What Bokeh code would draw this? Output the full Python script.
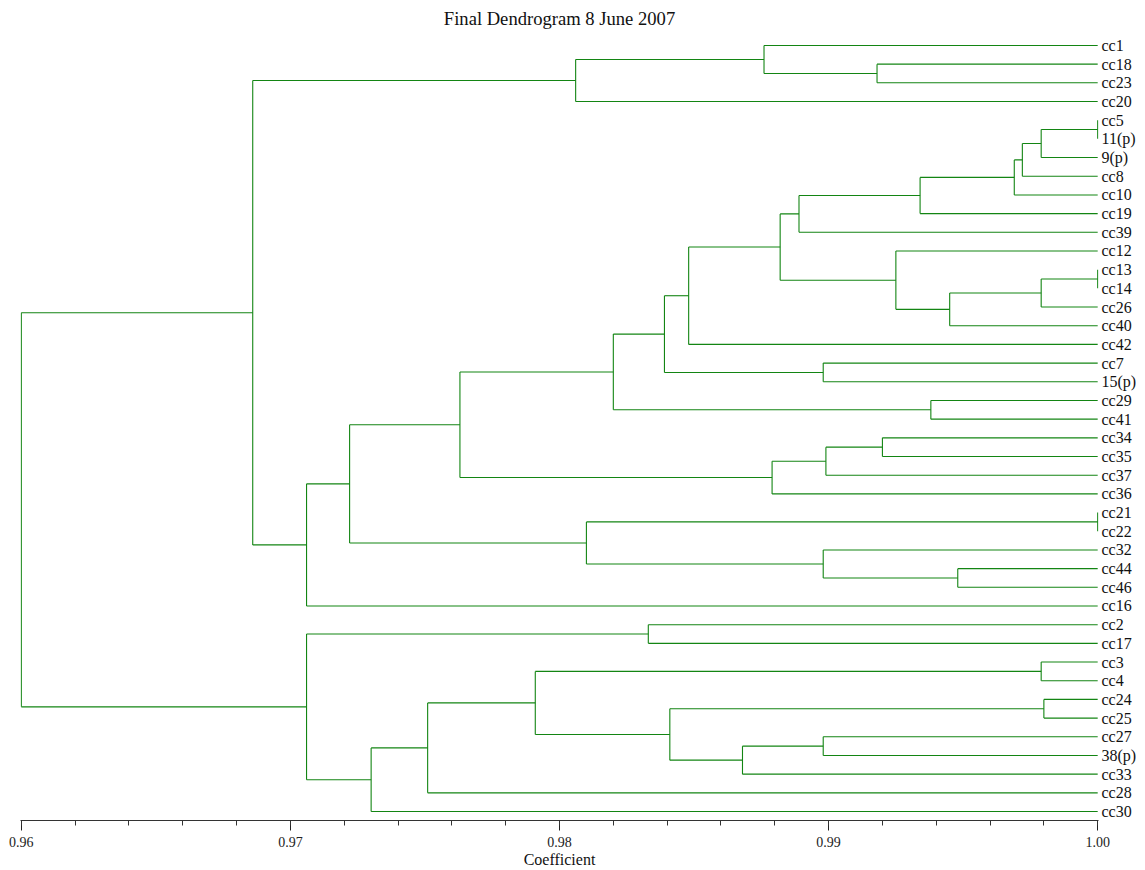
from bokeh.plotting import figure
from bokeh.models import Range1d, LinearAxis, FixedTicker, ColumnDataSource, PrintfTickFormatter
from bokeh.embed import file_html
from bokeh.resources import INLINE

# ---------------- data ----------------
leaves = ["cc1", "cc18", "cc23", "cc20", "cc5", "11(p)", "9(p)", "cc8", "cc10", "cc19",
          "cc39", "cc12", "cc13", "cc14", "cc26", "cc40", "cc42", "cc7", "15(p)", "cc29",
          "cc41", "cc34", "cc35", "cc37", "cc36", "cc21", "cc22", "cc32", "cc44", "cc46",
          "cc16", "cc2", "cc17", "cc3", "cc4", "cc24", "cc25", "cc27", "38(p)", "cc33",
          "cc28", "cc30"]

# merge k creates node "n{k+1}" from merge_a[k] and merge_b[k] at merge_height[k]
merge_a = ["cc18", "cc1", "n2", "cc5", "n4", "n5", "n6", "n7", "n8", "cc13",
           "n10", "n11", "cc12", "n9", "n14", "cc7", "n15", "cc29", "n17", "cc34",
           "n20", "n21", "n19", "cc21", "cc44", "cc32", "n24", "n23", "n28", "n3",
           "cc2", "cc3", "cc24", "cc27", "n34", "n33", "n32", "n37", "n38", "n31",
           "n30"]
merge_b = ["cc23", "n1", "cc20", "11(p)", "9(p)", "cc8", "cc10", "cc19", "cc39", "cc14",
           "cc26", "cc40", "n12", "n13", "cc42", "15(p)", "n16", "cc41", "n18", "cc35",
           "cc37", "cc36", "n22", "cc22", "cc46", "n25", "n26", "n27", "cc16", "n29",
           "cc17", "cc4", "cc25", "38(p)", "cc33", "n35", "n36", "cc28", "cc30", "n39",
           "n40"]
merge_height = [0.9918, 0.9876, 0.9806, 1.0000, 0.9979, 0.9972, 0.9969, 0.9934, 0.9889, 1.0000,
                0.9979, 0.9945, 0.9925, 0.9882, 0.9848, 0.9898, 0.9839, 0.9938, 0.9820, 0.9920,
                0.9899, 0.9879, 0.9763, 1.0000, 0.9948, 0.9898, 0.9810, 0.9722, 0.9706, 0.9686,
                0.9833, 0.9979, 0.9980, 0.9898, 0.9868, 0.9841, 0.9791, 0.9751, 0.9730, 0.9706,
                0.9600]
leaf_height = 1.0

x_ticks = [0.96, 0.97, 0.98, 0.99, 1.00]
x_tick_labels = ["0.96", "0.97", "0.98", "0.99", "1.00"]
x_minor_ticks = [0.96 + 0.002 * i for i in range(21)]

title_text = "Final Dendrogram 8 June 2007"
x_label = "Coefficient"

# ---------------- geometry from the tree ----------------
pos_y = {name: float(i) for i, name in enumerate(leaves)}
pos_h = {name: leaf_height for name in leaves}
x0, y0, x1, y1 = [], [], [], []
for k, (a, b, h) in enumerate(zip(merge_a, merge_b, merge_height)):
    node = "n%d" % (k + 1)
    for c in (a, b):
        x0.append(pos_h[c]); y0.append(pos_y[c]); x1.append(h); y1.append(pos_y[c])
    x0.append(h); y0.append(pos_y[a]); x1.append(h); y1.append(pos_y[b])
    pos_y[node] = (pos_y[a] + pos_y[b]) / 2.0
    pos_h[node] = h

src = ColumnDataSource(dict(x0=x0, y0=y0, x1=x1, y1=y1))

SERIF = "Liberation Serif"
GREEN = "#138513"
n = len(leaves)
eps = 0.00003

p = figure(width=1145, height=870, output_backend="svg", toolbar_location=None,
           x_range=Range1d(0.96 - eps, 1.0 + eps),
           y_range=Range1d(n - 1 + 0.48, -0.80),
           y_axis_location=None, x_axis_location=None,
           min_border_left=20, min_border_right=47, min_border_top=30, min_border_bottom=0)
p.outline_line_color = None
p.xgrid.visible = False
p.ygrid.visible = False
p.background_fill_color = "white"
p.border_fill_color = "white"

p.segment("x0", "y0", "x1", "y1", source=src, line_color=GREEN, line_width=1.1)

# title
p.title.text = title_text
p.title.text_font = SERIF
p.title.text_font_size = "18.6px"
p.title.text_font_style = "normal"
p.title.text_color = "#111111"
p.title.align = "center"
p.title.standoff = 4
p.title.offset = 0

# bottom axis
xaxis = LinearAxis(ticker=FixedTicker(ticks=x_ticks, minor_ticks=x_minor_ticks),
                   formatter=PrintfTickFormatter(format="%.2f"))
xaxis.major_label_overrides = {t: l for t, l in zip(x_ticks, x_tick_labels)}
xaxis.axis_label = x_label
xaxis.axis_label_text_font = SERIF
xaxis.axis_label_text_font_size = "16px"
xaxis.axis_label_text_font_style = "normal"
xaxis.axis_label_text_color = "#111111"
xaxis.axis_label_standoff = 1
xaxis.major_label_text_font = SERIF
xaxis.major_label_text_font_size = "14px"
xaxis.major_label_text_color = "#222222"
xaxis.major_label_standoff = 6
xaxis.axis_line_color = "#333333"
xaxis.major_tick_line_color = "#222222"
xaxis.minor_tick_line_color = "#333333"
xaxis.major_tick_in = 0
xaxis.major_tick_out = 10
xaxis.minor_tick_in = 0
xaxis.minor_tick_out = 5
p.add_layout(xaxis, "below")

# right axis with leaf labels
yaxis = LinearAxis(ticker=FixedTicker(ticks=list(range(n)), minor_ticks=[]))
yaxis.major_label_overrides = {i: name for i, name in enumerate(leaves)}
yaxis.major_label_text_font = SERIF
yaxis.major_label_text_font_size = "16px"
yaxis.major_label_text_color = "#111111"
yaxis.major_label_standoff = 3
yaxis.axis_line_color = None
yaxis.major_tick_line_color = None
yaxis.minor_tick_line_color = None
yaxis.major_tick_in = 0
yaxis.major_tick_out = 0
p.add_layout(yaxis, "right")

open("out.html", "w").write(file_html(p, INLINE))
